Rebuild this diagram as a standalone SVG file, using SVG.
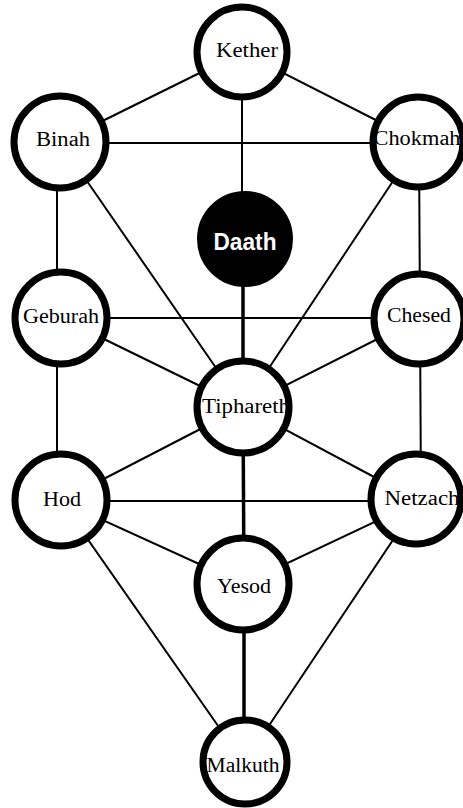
<svg xmlns="http://www.w3.org/2000/svg" width="463" height="808" viewBox="0 0 463 808">
<style>
.bg{fill:#fff}
.c{stroke:#000;stroke-linecap:butt}
.thin{stroke-width:2}
.thick{stroke-width:3.5}
.node{fill:#fff;stroke:#000;stroke-width:7}
.dark{fill:#000;stroke:#000;stroke-width:2}
.t{font-family:"Liberation Serif","Times New Roman",serif;font-size:20px;fill:#000;text-anchor:middle}
.td{font-family:"Liberation Sans",Arial,sans-serif;font-size:24px;font-weight:bold;fill:#fff;text-anchor:middle}
</style>
<rect class="bg" x="0" y="0" width="463" height="808"/>
<g id="connectors">
<line class="c thin" x1="242" y1="52" x2="60" y2="142"/>
<line class="c thin" x1="242" y1="52" x2="419" y2="142"/>
<line class="c thin" x1="242" y1="52" x2="242" y2="239"/>
<line class="c thin" x1="60" y1="143" x2="419" y2="143"/>
<line class="c thin" x1="57" y1="142" x2="57" y2="318"/>
<line class="c thin" x1="60" y1="142" x2="243" y2="407"/>
<line class="c thin" x1="419" y1="142" x2="420" y2="318"/>
<line class="c thin" x1="419" y1="142" x2="243" y2="407"/>
<line class="c thick" x1="243" y1="239" x2="243" y2="407"/>
<line class="c thin" x1="61" y1="318" x2="419" y2="318"/>
<line class="c thin" x1="61" y1="318" x2="243" y2="407"/>
<line class="c thin" x1="419" y1="318" x2="243" y2="407"/>
<line class="c thin" x1="57" y1="318" x2="57" y2="501"/>
<line class="c thin" x1="420" y1="318" x2="421" y2="501"/>
<line class="c thin" x1="243" y1="407" x2="61" y2="501"/>
<line class="c thin" x1="243" y1="407" x2="419" y2="501"/>
<line class="c thick" x1="243" y1="407" x2="244" y2="584"/>
<line class="c thin" x1="61" y1="501" x2="419" y2="501"/>
<line class="c thin" x1="61" y1="501" x2="243" y2="584"/>
<line class="c thin" x1="419" y1="501" x2="243" y2="584"/>
<line class="c thin" x1="61" y1="501" x2="244" y2="763"/>
<line class="c thin" x1="419" y1="501" x2="244" y2="763"/>
<line class="c thick" x1="244" y1="584" x2="244" y2="763"/>
</g>
<g id="kether"><circle class="node" cx="242" cy="52" r="45"/><text class="t" x="247" y="57" textLength="62" lengthAdjust="spacingAndGlyphs">Kether</text></g>
<g id="binah"><circle class="node" cx="60" cy="142" r="46"/><text class="t" x="63" y="146" textLength="54" lengthAdjust="spacingAndGlyphs">Binah</text></g>
<g id="chokmah"><circle class="node" cx="418" cy="142" r="45"/><text class="t" x="417" y="145" textLength="87" lengthAdjust="spacingAndGlyphs">Chokmah</text></g>
<g id="daath"><circle class="dark" cx="245" cy="239" r="47"/><text class="td" x="245" y="250" textLength="63" lengthAdjust="spacingAndGlyphs">Daath</text></g>
<g id="geburah"><circle class="node" cx="61" cy="318" r="46"/><text class="t" x="61" y="323" textLength="76" lengthAdjust="spacingAndGlyphs">Geburah</text></g>
<g id="chesed"><circle class="node" cx="419" cy="319" r="45"/><text class="t" x="419" y="322" textLength="64" lengthAdjust="spacingAndGlyphs">Chesed</text></g>
<g id="tiphareth"><circle class="node" cx="243" cy="407" r="46"/><text class="t" x="246" y="413" textLength="88" lengthAdjust="spacingAndGlyphs">Tiphareth</text></g>
<g id="hod"><circle class="node" cx="61" cy="500" r="46"/><text class="t" x="62" y="506" textLength="38" lengthAdjust="spacingAndGlyphs">Hod</text></g>
<g id="netzach"><circle class="node" cx="416" cy="499" r="45"/><text class="t" x="422" y="505" textLength="75" lengthAdjust="spacingAndGlyphs">Netzach</text></g>
<g id="yesod"><circle class="node" cx="243" cy="584" r="46"/><text class="t" x="244" y="593" textLength="54" lengthAdjust="spacingAndGlyphs">Yesod</text></g>
<g id="malkuth"><circle class="node" cx="245" cy="762" r="42"/><text class="t" x="243" y="772" textLength="73" lengthAdjust="spacingAndGlyphs">Malkuth</text></g>
</svg>
